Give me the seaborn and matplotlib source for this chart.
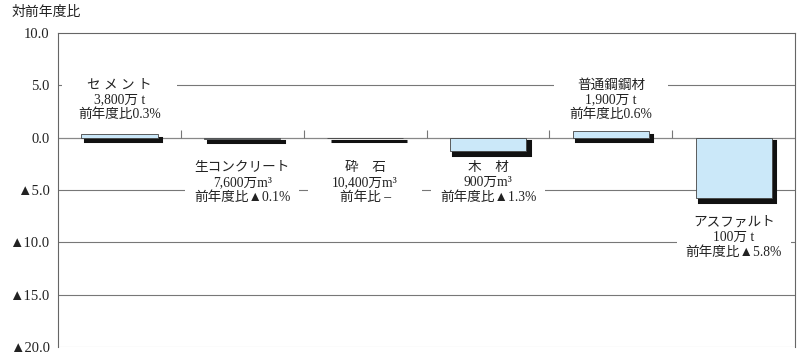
import matplotlib.pyplot as plt
import matplotlib.patheffects as pe
import numpy as np
import pandas as pd
import seaborn as sns
from matplotlib.patches import Rectangle

materials = ["セ メ ン ト", "生コンクリート", "砕　石", "木　材", "普通鋼鋼材", "アスファルト"]
volumes = ["3,800万 t", "7,600万m³", "10,400万m³", "900万m³", "1,900万 t", "100万 t"]
ratio_text = ["前年度比0.3%", "前年度比▲0.1%", "前年比 –", "前年度比▲1.3%",
              "前年度比0.6%", "前年度比▲5.8%"]
ratios = [0.3, -0.1, 0.0, -1.3, 0.6, -5.8]
label_y = [3.6, -4.3, -4.3, -4.3, 3.6, -9.5]

yticks = [10, 5, 0, -5, -10, -15, -20]
ytick_labels = ["10.0", "5.0", "0.0", "▲5.0", "▲10.0", "▲15.0", "▲20.0"]

sns.set_style("white")
plt.rcParams["font.family"] = ["Liberation Serif", "Noto Sans CJK JP"]

df = pd.DataFrame({"material": materials, "ratio": ratios})

fig = plt.figure(figsize=(8, 3.58), dpi=100)
ax = fig.add_axes([0.0725, 0.031, 0.9215, 0.877])

# grid lines behind everything
for y in yticks[1:]:
    col = "#bbbbbb" if y == -20 else "#777777"
    ax.axhline(y, color=col, lw=0.8, zorder=0)
ax.axhline(0, color="#888888", lw=0.8, zorder=0)

# little category separators on the zero line
ax.vlines(np.arange(0.5, len(materials) - 0.5), 0, 0.7, color="#777777", lw=0.8, zorder=1)

shadow = [pe.Stroke(offset=(2.5, -2.5), linewidth=2.2, foreground="#111111"),
          pe.SimplePatchShadow(offset=(2.5, -2.5), shadow_rgbFace="#111111", alpha=1),
          pe.Normal()]
sns.barplot(data=df, x="material", y="ratio", color="#cbe8f9", saturation=1,
            width=0.62, edgecolor="#444444", linewidth=0.6, ax=ax, zorder=3)
for bar in ax.patches:
    bar.set_path_effects(shadow)

# labels with white boxes masking the grid lines
for i, (name, vol, rt, ly) in enumerate(zip(materials, volumes, ratio_text, label_y)):
    ax.add_patch(Rectangle((i - 0.465, ly - 2.2), 0.93, 4.4, facecolor="white",
                           edgecolor="none", zorder=2))
    ax.text(i, ly, f"{name}\n{vol}\n{rt}", ha="center", va="center",
            fontsize=9.8, linespacing=1.2, color="#222222", zorder=4)

ax.set_xlim(-0.5, len(materials) - 0.5)
ax.set_ylim(-20, 10)
ax.set_yticks(yticks)
ax.set_yticklabels(ytick_labels, fontsize=10.5, color="#222222")
ax.set_xticks([])
ax.set_xlabel("")
ax.set_ylabel("")
ax.tick_params(axis="y", length=0, pad=6)
for side in ["left", "top", "right"]:
    ax.spines[side].set_color("#666666")
    ax.spines[side].set_linewidth(0.8)
ax.spines["bottom"].set_visible(False)

fig.text(0.015, 0.965, "対前年度比", fontsize=10, color="#222222", va="center")

fig.savefig("out.png", dpi=100)
